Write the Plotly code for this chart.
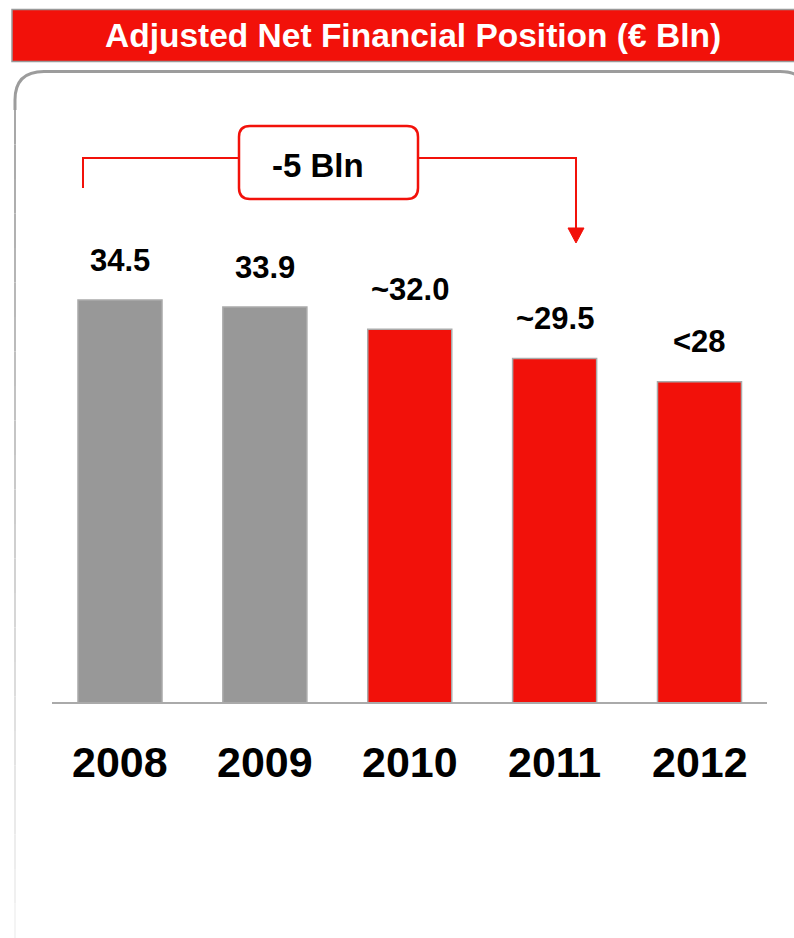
import plotly.graph_objects as go

# ---- data ----
years = ["2008", "2009", "2010", "2011", "2012"]
values = [34.5, 33.9, 32.0, 29.5, 27.5]
value_labels = ["34.5", "33.9", "~32.0", "~29.5", "<28"]
is_actual = [True, True, False, False, False]
title_text = "Adjusted Net Financial Position (€ Bln)"
delta_text = "-5 Bln"

W, H = 794, 938
RED = "#F2110A"
GRAY_BAR = "#989898"
FONT = "Liberation Sans, Arial, sans-serif"


def px(x):
    return x / W


def py(y):
    return 1 - y / H


def path(points):
    out = []
    for cmd, *c in points:
        if cmd == "Z":
            out.append("Z")
            continue
        pts = [f"{px(c[i]):.5f},{py(c[i+1]):.5f}" for i in range(0, len(c), 2)]
        out.append(cmd + " ".join(pts))
    return " ".join(out)


colors = [GRAY_BAR if a else RED for a in is_actual]

fig = go.Figure()
fig.add_trace(go.Bar(
    x=list(range(len(years))),
    y=values,
    marker=dict(color=colors, line=dict(color="#aaaaaa", width=1.5)),
    width=0.58,
    hoverinfo="skip",
))

shapes = []
# panel (rounded card)
shapes.append(dict(type="path", xref="paper", yref="paper", layer="below",
                   path=path([("M", 15, 960), ("L", 15, 100), ("Q", 15, 71.5, 44, 71.5),
                              ("L", 780, 71.5), ("Q", 805, 71.5, 805, 95), ("L", 805, 960), ("Z",)]),
                   fillcolor="white", line=dict(width=0)))
shapes.append(dict(type="path", xref="paper", yref="paper", layer="below",
                   path=path([("M", 15, 110), ("L", 15, 100), ("Q", 15, 71.5, 44, 71.5),
                              ("L", 780, 71.5), ("Q", 797, 71.5, 800, 80)]),
                   line=dict(color="#9c9c9c", width=3)))
n = 24
y0, y1 = 110, 938
for i in range(n):
    t = i / (n - 1)
    g = int(0xa8 + (0xf4 - 0xa8) * t)
    ya = y0 + (y1 - y0) * i / n
    yb = y0 + (y1 - y0) * (i + 1) / n
    shapes.append(dict(type="line", xref="paper", yref="paper", layer="below",
                       x0=px(15), x1=px(15), y0=py(ya), y1=py(yb),
                       line=dict(color=f"rgb({g},{g},{g})", width=2)))
# title bar
shapes.append(dict(type="rect", xref="paper", yref="paper",
                   x0=px(12), x1=px(805), y0=py(9.5), y1=py(61.5),
                   fillcolor=RED, line=dict(color="#999999", width=1.5)))
# baseline
shapes.append(dict(type="line", xref="paper", yref="paper",
                   x0=px(52), x1=px(767), y0=py(703), y1=py(703),
                   line=dict(color="#aaaaaa", width=2)))
# bracket
shapes.append(dict(type="path", xref="paper", yref="paper",
                   path=path([("M", 83, 188), ("L", 83, 158), ("L", 239, 158)]),
                   line=dict(color=RED, width=2)))
shapes.append(dict(type="path", xref="paper", yref="paper",
                   path=path([("M", 418, 158), ("L", 576, 158), ("L", 576, 230)]),
                   line=dict(color=RED, width=2)))
shapes.append(dict(type="path", xref="paper", yref="paper",
                   path=path([("M", 568, 228), ("L", 584, 228), ("L", 576, 243), ("Z",)]),
                   fillcolor=RED, line=dict(color=RED, width=1)))
bx0, bx1, by0, by1, r = 239, 418, 126, 199, 11
shapes.append(dict(type="path", xref="paper", yref="paper",
                   path=path([("M", bx0 + r, by0), ("L", bx1 - r, by0), ("Q", bx1, by0, bx1, by0 + r),
                              ("L", bx1, by1 - r), ("Q", bx1, by1, bx1 - r, by1),
                              ("L", bx0 + r, by1), ("Q", bx0, by1, bx0, by1 - r),
                              ("L", bx0, by0 + r), ("Q", bx0, by0, bx0 + r, by0), ("Z",)]),
                   fillcolor="white", line=dict(color=RED, width=2.5)))

annotations = []
annotations.append(dict(xref="paper", yref="paper", x=px(413), y=py(35), text=title_text,
                        showarrow=False, xanchor="center", yanchor="middle",
                        font=dict(family=FONT, size=33.5, color="white", weight="bold")))
annotations.append(dict(xref="paper", yref="paper", x=px(318), y=py(165), text=delta_text,
                        showarrow=False, xanchor="center", yanchor="middle",
                        font=dict(family=FONT, size=33, color="black", weight="bold")))
for i, (v, lab) in enumerate(zip(values, value_labels)):
    annotations.append(dict(x=i, y=v, xref="x", yref="y", text=lab, showarrow=False,
                            xanchor="center", yanchor="middle", yshift=40,
                            font=dict(family=FONT, size=31, color="black", weight="bold")))
for i, yr in enumerate(years):
    annotations.append(dict(x=i, xref="x", yref="paper", y=py(762), text=yr, showarrow=False,
                            xanchor="center", yanchor="middle",
                            font=dict(family=FONT, size=43, color="black", weight="bold")))

scale = 403 / 34.5  # px per unit
fig.update_layout(
    width=W, height=H,
    margin=dict(l=0, r=0, t=0, b=0),
    paper_bgcolor="white", plot_bgcolor="rgba(0,0,0,0)",
    showlegend=False,
    bargap=0.42,
    xaxis=dict(range=[-120 / 144.875, (W - 120) / 144.875], visible=False, domain=[0, 1]),
    yaxis=dict(range=[-(H - 703) / scale, 703 / scale], visible=False, domain=[0, 1]),
    shapes=shapes,
    annotations=annotations,
)
fig.write_html("out.html")
